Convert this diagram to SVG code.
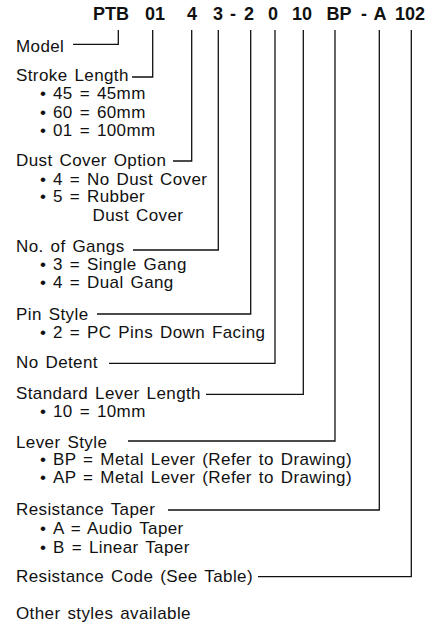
<svg xmlns="http://www.w3.org/2000/svg" width="443" height="626" viewBox="0 0 443 626">
<style>
.t{font-family:"Liberation Sans",Arial,sans-serif;font-size:17px;fill:#111;letter-spacing:0.4px;word-spacing:1.8px}
.h{font-family:"Liberation Sans",Arial,sans-serif;font-size:18px;font-weight:bold;fill:#111;text-anchor:middle}
.c{fill:none;stroke:#111;stroke-width:1.3}
</style>
<rect width="443" height="626" fill="#fff"/>
<g id="header">
<text class="h" x="111" y="20">PTB</text>
<text class="h" x="155" y="20">01</text>
<text class="h" x="192" y="20">4</text>
<text class="h" x="218" y="20">3</text>
<text class="h" x="233" y="20">-</text>
<text class="h" x="249" y="20">2</text>
<text class="h" x="273" y="20">0</text>
<text class="h" x="302" y="20">10</text>
<text class="h" x="339" y="20">BP</text>
<text class="h" x="364" y="20">-</text>
<text class="h" x="380" y="20">A</text>
<text class="h" x="410" y="20">102</text>
</g>
<g id="connectors">
<polyline class="c" points="73,44.3 118.3,44.3 118.3,30"/>
<polyline class="c" points="132,77 152.7,77 152.7,30"/>
<polyline class="c" points="173,161 191.7,161 191.7,30"/>
<polyline class="c" points="133,250 218.3,250 218.3,30"/>
<polyline class="c" points="97,314 250.7,314 250.7,30"/>
<polyline class="c" points="109,363.3 275,363.3 275,30"/>
<polyline class="c" points="206,394.3 303.3,394.3 303.3,30"/>
<polyline class="c" points="128,441 335,441 335,30"/>
<polyline class="c" points="168,510 379.3,510 379.3,30"/>
<polyline class="c" points="258,576.7 411.3,576.7 411.3,30"/>
</g>
<g id="model"><text class="t" x="16" y="51.5">Model</text></g>
<g id="stroke-length">
<text class="t" x="16" y="81">Stroke Length</text>
<text class="t" y="99.3"><tspan x="40">•</tspan><tspan x="53">45 = 45mm</tspan></text>
<text class="t" y="117.5"><tspan x="40">•</tspan><tspan x="53">60 = 60mm</tspan></text>
<text class="t" y="135.7"><tspan x="40">•</tspan><tspan x="53">01 = 100mm</tspan></text>
</g>
<g id="dust-cover">
<text class="t" x="16" y="165.7">Dust Cover Option</text>
<text class="t" y="185"><tspan x="40">•</tspan><tspan x="53">4 = No Dust Cover</tspan></text>
<text class="t" y="202.3"><tspan x="40">•</tspan><tspan x="53">5 = Rubber</tspan></text>
<text class="t" x="92.5" y="220.7">Dust Cover</text>
</g>
<g id="gangs">
<text class="t" x="16" y="251.7">No. of Gangs</text>
<text class="t" y="270"><tspan x="40">•</tspan><tspan x="53">3 = Single Gang</tspan></text>
<text class="t" y="288.3"><tspan x="40">•</tspan><tspan x="53">4 = Dual Gang</tspan></text>
</g>
<g id="pin-style">
<text class="t" x="16" y="320">Pin Style</text>
<text class="t" y="338.3"><tspan x="40">•</tspan><tspan x="53">2 = PC Pins Down Facing</tspan></text>
</g>
<g id="no-detent"><text class="t" x="16" y="368.2">No Detent</text></g>
<g id="lever-length">
<text class="t" x="16" y="399.3">Standard Lever Length</text>
<text class="t" y="416.7"><tspan x="40">•</tspan><tspan x="53">10 = 10mm</tspan></text>
</g>
<g id="lever-style">
<text class="t" x="16" y="447.5">Lever Style</text>
<text class="t" y="465.2"><tspan x="40">•</tspan><tspan x="53">BP = Metal Lever (Refer to Drawing)</tspan></text>
<text class="t" y="483"><tspan x="40">•</tspan><tspan x="53">AP = Metal Lever (Refer to Drawing)</tspan></text>
</g>
<g id="taper">
<text class="t" x="16" y="515">Resistance Taper</text>
<text class="t" y="534.3"><tspan x="40">•</tspan><tspan x="53">A = Audio Taper</tspan></text>
<text class="t" y="552.7"><tspan x="40">•</tspan><tspan x="53">B = Linear Taper</tspan></text>
</g>
<g id="resistance-code"><text class="t" x="16" y="581.7">Resistance Code (See Table)</text></g>
<g id="note"><text class="t" x="16" y="619.3">Other styles available</text></g>
</svg>
